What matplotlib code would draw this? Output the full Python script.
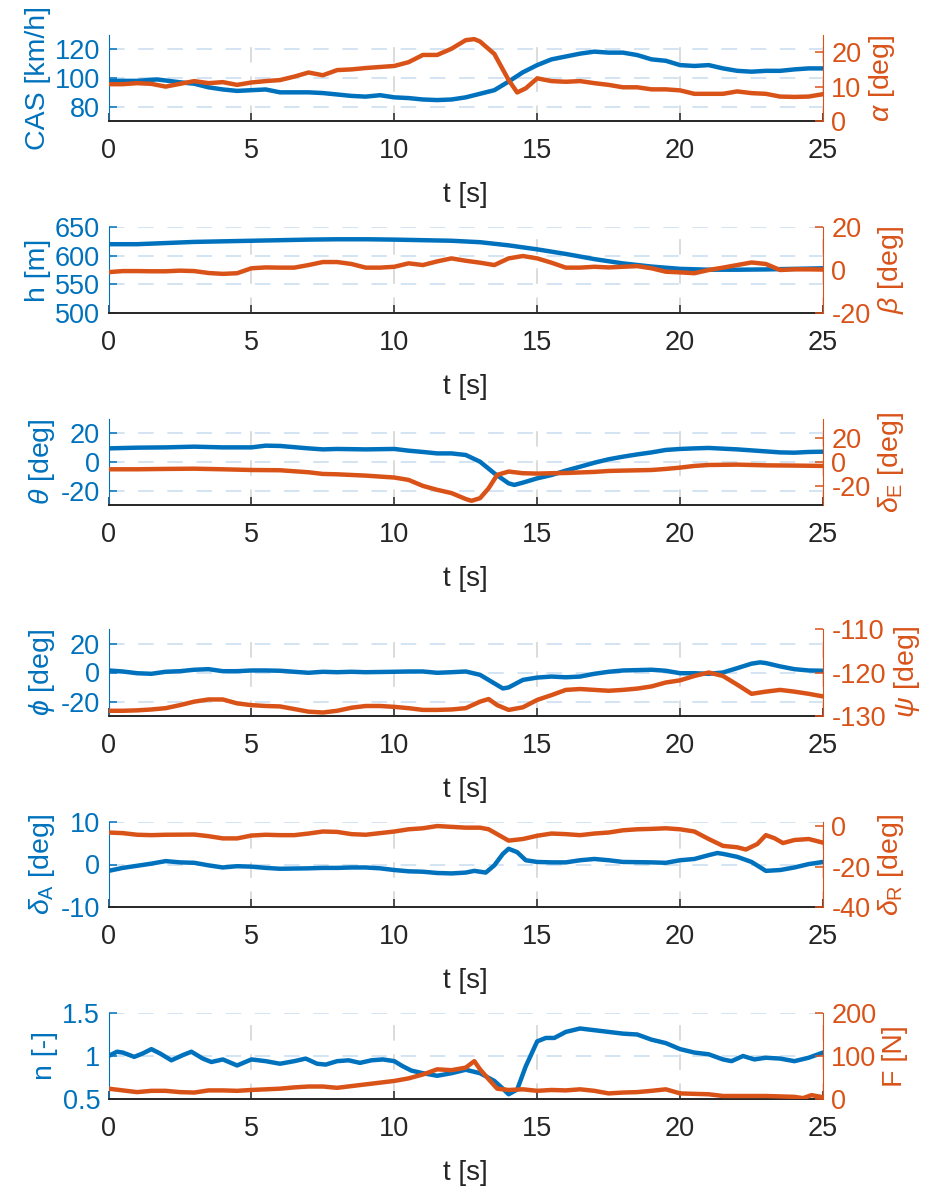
import matplotlib
matplotlib.use('Agg')
import matplotlib.pyplot as plt

plt.rcParams['font.family'] = ['Liberation Sans', 'DejaVu Sans']
plt.rcParams['mathtext.fontset'] = 'custom'
plt.rcParams['mathtext.rm'] = 'Liberation Sans'
plt.rcParams['mathtext.it'] = 'Liberation Sans:italic'
plt.rcParams['mathtext.sf'] = 'Liberation Sans'
plt.rcParams['axes.unicode_minus'] = False
plt.rcParams['font.size'] = 19

BLUE = '#0072BD'
ORANGE = '#D95319'
DARK = '#262626'

# calibrated airspeed and angle of attack
t_cas = [0, 1, 1.7, 2.5, 3, 3.5, 4, 4.5, 5, 5.5, 6, 7, 7.5, 8, 8.5, 9, 9.5, 10, 10.5, 11, 11.5, 12,
         12.5, 13, 13.5, 14, 14.5, 15, 15.5, 16, 16.5, 17, 17.5, 18, 18.5, 19, 19.5, 20, 20.5, 21,
         21.5, 22, 22.5, 23, 23.5, 24, 24.5, 25]
cas = [98, 98, 99, 97, 96, 93.5, 92, 91, 91.5, 92, 90, 90, 89.5, 88.5, 87.5, 87, 88, 86.5, 86, 85,
       84.6, 85, 86.5, 89, 91.5, 97.5, 104, 109, 113, 115, 117, 118.4, 117.7, 117.7, 116, 113, 112,
       109, 108.4, 109, 106.7, 105, 104.4, 105, 105, 106, 106.7, 106.7]
t_alpha = [0, 0.5, 1, 1.5, 2, 2.5, 3, 3.5, 4, 4.5, 5, 5.5, 6, 6.5, 7, 7.5, 8, 8.5, 9, 9.5, 10,
           10.5, 11, 11.5, 12, 12.5, 12.8, 13, 13.5, 14, 14.3, 14.6, 15, 15.5, 16, 16.5, 17, 17.5,
           18, 18.5, 19, 19.5, 20, 20.5, 21, 21.5, 22, 22.5, 23, 23.5, 24, 24.5, 25]
alpha = [10.7, 10.7, 11, 10.8, 10, 10.8, 11.6, 11, 11.3, 10.5, 11.2, 11.6, 11.9, 12.9, 14.1, 13.3,
         14.8, 15, 15.4, 15.7, 16, 17.1, 19.2, 19.2, 21, 23.5, 23.8, 23.1, 19.5, 11.9, 8.3, 9.5,
         12.4, 11.6, 11.4, 11.6, 11, 10.5, 9.8, 9.8, 9.2, 9.2, 8.9, 7.9, 7.9, 7.9, 8.6, 8.1, 7.9,
         7.1, 7, 7.1, 7.8]

# altitude and sideslip
t_h = [0, 1, 2, 3, 4, 5, 6, 7, 8, 9, 10, 11, 12, 13, 14, 15, 16, 17, 18, 19, 20, 21, 22, 23, 24, 25]
h = [620, 620, 622, 624, 625, 626, 627, 628, 628.6, 628.6, 628, 627, 626, 623.5, 618, 611, 603,
     594, 586.5, 581, 577, 575.5, 575.5, 576, 577, 578]
t_beta = [0, 0.5, 1, 1.5, 2, 2.5, 3, 3.5, 4, 4.5, 5, 5.5, 6, 6.5, 7, 7.5, 8, 8.5, 9, 9.5, 10, 10.5,
          11, 11.5, 12, 12.5, 13, 13.5, 14, 14.5, 15, 15.5, 16, 16.5, 17, 17.5, 18, 18.5, 19,
          19.5, 20, 20.5, 21, 21.5, 22, 22.5, 23, 23.5, 24, 24.5, 25]
beta = [-1, -0.5, -0.5, -0.6, -0.6, -0.3, -0.5, -1.4, -1.8, -1.5, 0.8, 1.2, 1.1, 1.1, 2.3, 3.7,
        3.7, 2.8, 1.1, 1.1, 1.5, 3.1, 2.3, 4, 5.4, 4.3, 3.4, 2.3, 5.4, 6.5, 5.4, 3.4, 1.1, 1.1,
        1.5, 1.2, 1.5, 1.8, 0.8, -0.8, -1.1, -1.5, 0, 1.1, 2.3, 3.5, 2.8, 0, 0.3, 0.3, 0.2]

# pitch angle and elevator deflection
t_theta = [0, 1, 2, 3, 4, 5, 5.5, 6, 7, 7.5, 8, 9, 10, 10.5, 11, 11.5, 12, 12.5, 13, 13.5, 14,
           14.2, 14.5, 15, 15.5, 16, 16.5, 17, 17.5, 18, 18.5, 19, 19.5, 20, 20.5, 21, 21.5, 22,
           22.5, 23, 23.5, 24, 24.5, 25]
theta = [9.5, 10, 10.2, 10.7, 10.2, 10.2, 11.4, 11.2, 9.5, 8.8, 9.1, 8.8, 9.1, 7.9, 7, 6, 6, 4.9,
         0.2, -7.9, -14.9, -16, -14.4, -11.4, -9.1, -6, -3.3, -0.5, 1.9, 3.7, 5.3, 6.7, 8.4, 9.1,
         9.5, 9.8, 9.3, 8.8, 8.1, 7.4, 6.7, 6.5, 7, 7.2]
t_de = [0, 1, 2, 3, 4, 5, 6, 7, 7.5, 8, 9, 10, 10.5, 11, 11.5, 12, 12.5, 12.7, 13, 13.3, 13.6, 14,
        14.5, 15, 15.5, 16, 17, 17.5, 18, 19, 19.5, 20, 20.5, 21, 22, 23, 24, 25]
delta_e = [-6.1, -6.1, -5.8, -5.6, -6.1, -6.7, -6.9, -8.6, -10, -10.3, -11.4, -13, -15, -20,
           -23.3, -26, -31, -32.5, -30.3, -22, -10.8, -8, -9.4, -9.7, -9.4, -9.2, -8.3, -7.5,
           -7.2, -6.7, -5.8, -4.7, -3.3, -2.5, -2.2, -2.8, -3, -3.3]

# bank angle and heading
t_phi = [0, 0.5, 1, 1.5, 2, 2.5, 3, 3.5, 4, 4.5, 5, 5.5, 6, 7, 7.5, 8, 8.5, 9, 10, 10.5, 11, 11.5,
         12, 12.5, 13, 13.5, 13.8, 14, 14.5, 15, 15.5, 16, 16.5, 17, 17.5, 18, 19, 19.5, 20,
         20.5, 21, 21.5, 22, 22.5, 22.8, 23, 23.5, 24, 24.5, 25]
phi = [1.4, 0.7, -0.5, -0.9, 0.5, 0.9, 1.9, 2.3, 0.9, 0.9, 1.4, 1.4, 1.2, -0.2, 0.5, 0.2, 0.5,
       0.2, 0.5, 0.7, 0.7, -0.2, 0.2, 0.7, -1.6, -7.5, -11, -10.3, -5.1, -3.5, -2.8, -3.3, -2.8,
       -0.9, 0.5, 1.4, 1.9, 1.2, -0.5, -0.5, -0.9, 0, 3, 6.1, 7, 6.5, 4.2, 2.3, 1.4, 1.2]
t_psi = [0, 0.5, 1, 1.5, 2, 2.5, 3, 3.5, 4, 4.5, 5, 5.5, 6, 6.5, 7, 7.5, 8, 8.5, 9, 9.5, 10, 10.5,
         11, 11.5, 12, 12.5, 13, 13.3, 13.6, 14, 14.5, 15, 15.5, 16, 16.5, 17, 17.5, 18, 18.5,
         19, 19.5, 20, 20.5, 21, 21.5, 22, 22.5, 23, 23.5, 24, 24.5, 25]
psi = [-128.8, -128.8, -128.7, -128.5, -128.2, -127.5, -126.7, -126.2, -126.2, -127.1, -127.5,
       -127.7, -127.8, -128.4, -129, -129.2, -128.8, -128.1, -127.7, -127.7, -127.9, -128.2,
       -128.6, -128.6, -128.5, -128.2, -126.7, -126.1, -127.5, -128.6, -128, -126.3, -125.2,
       -124, -123.8, -124, -124.2, -124, -123.7, -123.2, -122.3, -121.8, -120.8, -120, -120.8,
       -122.8, -124.9, -124.4, -124, -124.4, -124.9, -125.5]

# aileron and rudder deflection
t_da = [0, 0.5, 1, 1.5, 2, 2.5, 3, 3.5, 4, 4.5, 5, 5.5, 6, 7, 7.5, 8, 8.5, 9, 9.5, 10, 10.5, 11,
        11.5, 12, 12.5, 12.8, 13.2, 13.5, 13.8, 14, 14.3, 14.6, 15, 15.5, 16, 16.5, 17, 17.5, 18,
        19, 19.5, 20, 20.5, 21, 21.3, 21.5, 22, 22.5, 23, 23.5, 24, 24.5, 25]
delta_a = [-1.5, -0.8, -0.3, 0.2, 0.8, 0.5, 0.4, -0.2, -0.7, -0.4, -0.5, -0.8, -1, -0.9, -0.8,
           -0.8, -0.7, -0.7, -0.9, -1.3, -1.6, -1.7, -2, -2.1, -1.9, -1.5, -1.9, -0.2, 2.5, 3.7,
           2.9, 1, 0.6, 0.5, 0.5, 1, 1.3, 1, 0.6, 0.5, 0.4, 1, 1.3, 2.2, 2.7, 2.5, 1.8, 0.6, -1.5,
           -1.3, -0.7, 0.1, 0.6]
t_dr = [0, 0.5, 1, 1.5, 2, 3, 3.5, 4, 4.5, 5, 5.5, 6, 6.5, 7, 7.5, 8, 8.5, 9, 9.5, 10, 10.5, 11,
        11.5, 12, 12.5, 13, 13.3, 13.8, 14, 14.5, 15, 15.5, 16, 16.5, 17, 17.5, 18, 18.5, 19,
        19.5, 20, 20.5, 21, 21.5, 22, 22.3, 22.7, 23, 23.3, 23.6, 24, 24.5, 25]
delta_r = [-3.2, -3.5, -4.3, -4.5, -4.3, -4.2, -5.0, -6.1, -6.1, -4.7, -4.3, -4.5, -4.5, -3.7,
           -2.7, -2.9, -4.0, -4.3, -3.5, -2.7, -1.6, -1.1, 0.0, -0.4, -0.8, -0.8, -1.6, -5.6, -7.2,
           -6.4, -4.8, -3.7, -4.0, -4.5, -3.7, -3.2, -2.1, -1.6, -1.4, -1.1, -1.6, -2.7, -6.4,
           -9.8, -10.5, -11.6, -8.9, -4.5, -6.0, -8.4, -6.9, -6.4, -8.2]

# load factor and stick force
t_n = [0, 0.3, 0.5, 0.9, 1.2, 1.5, 1.8, 2.2, 2.6, 2.9, 3.3, 3.6, 4.0, 4.5, 5.0, 5.5, 6.0, 6.5,
       6.9, 7.3, 7.6, 8.0, 8.4, 8.8, 9.2, 9.6, 10, 10.3, 10.6, 11, 11.5, 12, 12.5, 13, 13.5, 13.8,
       14, 14.3, 14.6, 15, 15.3, 15.6, 16, 16.5, 17, 17.5, 18, 18.5, 19, 19.5, 20, 20.5, 21,
       21.5, 21.8, 22.2, 22.6, 23.0, 23.5, 24, 24.5, 25]
n = [1.0, 1.05, 1.04, 0.99, 1.03, 1.08, 1.03, 0.95, 1.01, 1.05, 0.97, 0.93, 0.96, 0.89, 0.96,
     0.94, 0.91, 0.94, 0.97, 0.91, 0.90, 0.94, 0.95, 0.92, 0.95, 0.96, 0.94, 0.88, 0.83, 0.80,
     0.77, 0.80, 0.84, 0.80, 0.71, 0.62, 0.555, 0.61, 0.88, 1.17, 1.21, 1.21, 1.28, 1.32, 1.30,
     1.28, 1.26, 1.25, 1.19, 1.15, 1.08, 1.04, 1.02, 0.96, 0.94, 1.0, 0.96, 0.98, 0.97, 0.94,
     0.98, 1.04]
t_f = [0, 0.5, 1, 1.5, 2, 2.5, 3, 3.5, 4, 4.5, 5, 5.5, 6, 6.5, 7, 7.5, 8, 8.5, 9, 9.5, 10, 10.5,
       11, 11.5, 12, 12.5, 12.8, 13, 13.3, 13.6, 14, 14.5, 15, 15.5, 16, 16.5, 17, 17.5, 18,
       18.5, 19, 19.5, 20, 20.5, 21, 21.5, 22, 22.5, 23, 23.5, 24, 24.3, 24.6, 25]
force = [24, 20, 16, 19, 19, 16, 15, 20, 20, 19, 21, 22.5, 24, 27, 29, 29, 26, 30, 34, 38, 42, 48,
         57, 69, 67, 73, 88, 69, 46, 24, 21, 22.5, 19, 21, 20, 22.5, 19, 13, 15, 16, 19, 22.5, 13,
         12, 11, 7, 7, 7, 7, 6, 5, 2, 9, 4]

panels = [
    (t_cas, cas, 'CAS [km/h]', (70, 130), [80, 100, 120],
     t_alpha, alpha, r'$\alpha$ [deg]', (0, 25), [0, 10, 20]),
    (t_h, h, 'h [m]', (500, 650), [500, 550, 600, 650],
     t_beta, beta, r'$\beta$ [deg]', (-20, 20), [-20, 0, 20]),
    (t_theta, theta, r'$\theta$ [deg]', (-30, 30), [-20, 0, 20],
     t_de, delta_e, r'$\delta_{\mathrm{E}}$ [deg]', (-36, 36), [-20, 0, 20]),
    (t_phi, phi, r'$\phi$ [deg]', (-30, 30), [-20, 0, 20],
     t_psi, psi, r'$\psi$ [deg]', (-130, -110), [-130, -120, -110]),
    (t_da, delta_a, r'$\delta_{\mathrm{A}}$ [deg]', (-10, 10), [-10, 0, 10],
     t_dr, delta_r, r'$\delta_{\mathrm{R}}$ [deg]', (-40, 2), [-40, -20, 0]),
    (t_n, n, 'n [-]', (0.5, 1.5), [0.5, 1, 1.5],
     t_f, force, 'F [N]', (0, 200), [0, 100, 200]),
]

# axes boxes in pixels (top, bottom) for a 936 x 1191 canvas
boxes = [(35, 121), (227, 313), (419, 505), (629, 716), (822, 907), (1013, 1099)]
W, H = 936, 1191
x0, x1 = 108.5, 823

fig = plt.figure(figsize=(W / 100, H / 100), dpi=100)

for (tl, yl, lab_l, lim_l, tk_l, tr, yr, lab_r, lim_r, tk_r), (top, bot) in zip(panels, boxes):
    ax = fig.add_axes([x0 / W, 1 - bot / H, (x1 - x0) / W, (bot - top) / H])
    ax2 = ax.twinx()

    ax.plot(tl, yl, color=BLUE, lw=3.2, solid_joinstyle='round')
    ax2.plot(tr, yr, color=ORANGE, lw=3.2, solid_joinstyle='round')

    ax.set_xlim(0, 25)
    ax.set_xticks([0, 5, 10, 15, 20, 25])
    ax.set_ylim(*lim_l)
    ax.set_yticks(tk_l)
    ax.set_yticklabels([('%g' % v) for v in tk_l])
    ax2.set_ylim(*lim_r)
    ax2.set_yticks(tk_r)

    # dashed grid: x lines grey, y lines tinted like the left axis
    ax.xaxis.grid(True, color='#dcdcdc', lw=1.4, ls=(0, (8, 7)))
    ax.yaxis.grid(True, color='#d3e4f2', lw=1.4, ls=(0, (8, 7)))
    ax.set_axisbelow(True)

    for a in (ax, ax2):
        a.spines['top'].set_visible(False)
        a.tick_params(direction='in', length=6, width=1.1)
    ax.spines['bottom'].set_color(DARK)
    ax.spines['bottom'].set_linewidth(1.4)
    ax2.spines['bottom'].set_visible(False)
    ax.spines['left'].set_color(BLUE)
    ax.spines['right'].set_visible(False)
    ax2.spines['left'].set_visible(False)
    ax2.spines['right'].set_color(ORANGE)

    ax.tick_params(axis='x', colors=DARK, labelsize=19.5, pad=12)
    ax.tick_params(axis='y', colors=BLUE, labelsize=19.5, pad=6)
    ax2.tick_params(axis='y', colors=ORANGE, labelsize=19.5, pad=6)

    ax.set_xlabel('t [s]', color=DARK, fontsize=20, labelpad=13)
    ax.set_ylabel(lab_l, color=BLUE, fontsize=20.5, labelpad=3)
    ax2.set_ylabel(lab_r, color=ORANGE, fontsize=20.5, labelpad=4, rotation=90)

fig.savefig('out.png', dpi=100)
